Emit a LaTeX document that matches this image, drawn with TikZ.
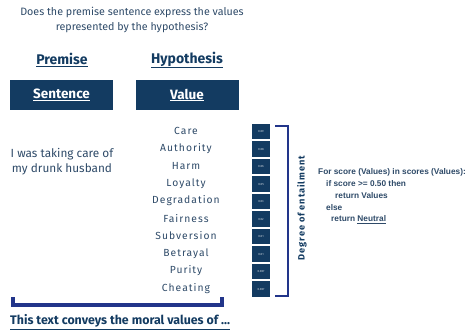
\documentclass[tikz,border=0pt]{standalone}
\usepackage{fontspec}
\setmainfont{Fira Sans}
\newfontfamily\spacedfont[LetterSpace=10]{Fira Sans}
\newfontfamily\codefont{Liberation Sans}
\usepackage{xcolor}
\usepackage{tikz}
\usetikzlibrary{positioning,calc}

\definecolor{inkblue}{HTML}{2E4A68}
\definecolor{boxblue}{HTML}{133B61}
\definecolor{bracketblue}{HTML}{22358A}

\tikzset{
  header/.style={font=\fontsize{14}{16}\selectfont\bfseries, text=boxblue},
  colbox/.style={fill=boxblue, minimum width=103pt, minimum height=30pt, inner sep=0pt,
    text=white, font=\fontsize{13.5}{15}\selectfont\bfseries},
  valuetext/.style={font=\spacedfont\fontsize{10.3}{12}\selectfont, text=inkblue},
  scorebox/.style={fill=boxblue, minimum width=18pt, minimum height=15.5pt, inner sep=0pt,
    text=white!80!boxblue, font=\fontsize{3}{3}\selectfont},
  codeline/.style={anchor=west, inner sep=0pt, font=\codefont\fontsize{8.3}{9}\selectfont\bfseries, text=inkblue},
}

\begin{document}
\begin{tikzpicture}[x=1pt, y=-1pt]
\useasboundingbox (0,0) rectangle (468,333);

% Question
\node[align=center, font=\fontsize{10.7}{15}\selectfont, text=inkblue] (question) at (132,20)
  {Does the premise sentence express the values\\represented by the hypothesis?};

% Column headers
\node[header] (premise) at (62,60) {\underline{Premise}};
\node[header] (hypothesis) at (187,60) {\underline{Hypothesis}};
\node[colbox] (sentence) at (61.5,95) {\underline{Sentence}};
\node[colbox] (value) at (187,95) {\underline{Value}};

% Premise sentence
\node[align=center, font=\fontsize{11.8}{15}\selectfont, text=inkblue] (example) at (62,161.5)
  {I was taking care of\\my drunk husband};

% Hypothesis values and scores
\node[valuetext] (care) at (186,131) {Care};
\node[scorebox] (care-score) at (261,131.5) {0.09};
\node[valuetext] (authority) at (186,148.5) {Authority};
\node[scorebox] (authority-score) at (261,149) {0.08};
\node[valuetext] (harm) at (186,166) {Harm};
\node[scorebox] (harm-score) at (261,166.5) {0.06};
\node[valuetext] (loyalty) at (186,183.5) {Loyalty};
\node[scorebox] (loyalty-score) at (261,184) {0.05};
\node[valuetext] (degradation) at (186,201) {Degradation};
\node[scorebox] (degradation-score) at (261,201.5) {0.03};
\node[valuetext] (fairness) at (186,218.5) {Fairness};
\node[scorebox] (fairness-score) at (261,219) {0.02};
\node[valuetext] (subversion) at (186,236) {Subversion};
\node[scorebox] (subversion-score) at (261,236.5) {0.01};
\node[valuetext] (betrayal) at (186,253.5) {Betrayal};
\node[scorebox] (betrayal-score) at (261,254) {0.01};
\node[valuetext] (purity) at (186,271) {Purity};
\node[scorebox] (purity-score) at (261,271.5) {0.007};
\node[valuetext] (cheating) at (186,288.5) {Cheating};
\node[scorebox] (cheating-score) at (261,289) {0.007};

% Entailment bracket
\coordinate (bracket-top) at (275,126);
\coordinate (bracket-bottom) at (275,296);
\draw[bracketblue, line width=2pt] (bracket-top) -- (288,126) -- (288,296) -- (bracket-bottom);
\node[rotate=90, text=boxblue, font=\spacedfont\fontsize{9.2}{10}\selectfont\bfseries] (degree) at (302,208)
  {Degree of entailment};

% Decision rule
\node[codeline] (rule1) at (318,172) {For score (Values) in scores (Values):};
\node[codeline] (rule2) at (326,184) {if score >= 0.50 then};
\node[codeline] (rule3) at (335,196) {return Values};
\node[codeline] (rule4) at (326,208) {else};
\node[codeline] (rule5) at (331,220) {return \underline{Neutral}};

% Bottom bracket
\coordinate (under-left) at (12.5,297);
\coordinate (under-right) at (221.5,297);
\draw[bracketblue, line width=4pt] (under-left) -- (12.5,305) -- (221.5,305) -- (under-right);
\node[anchor=west, inner sep=0pt, text=boxblue, font=\fontsize{12.4}{14}\selectfont\bfseries] (conclusion) at (10,322)
  {\underline{This text conveys the moral values of ...}};
\end{tikzpicture}
\end{document}
